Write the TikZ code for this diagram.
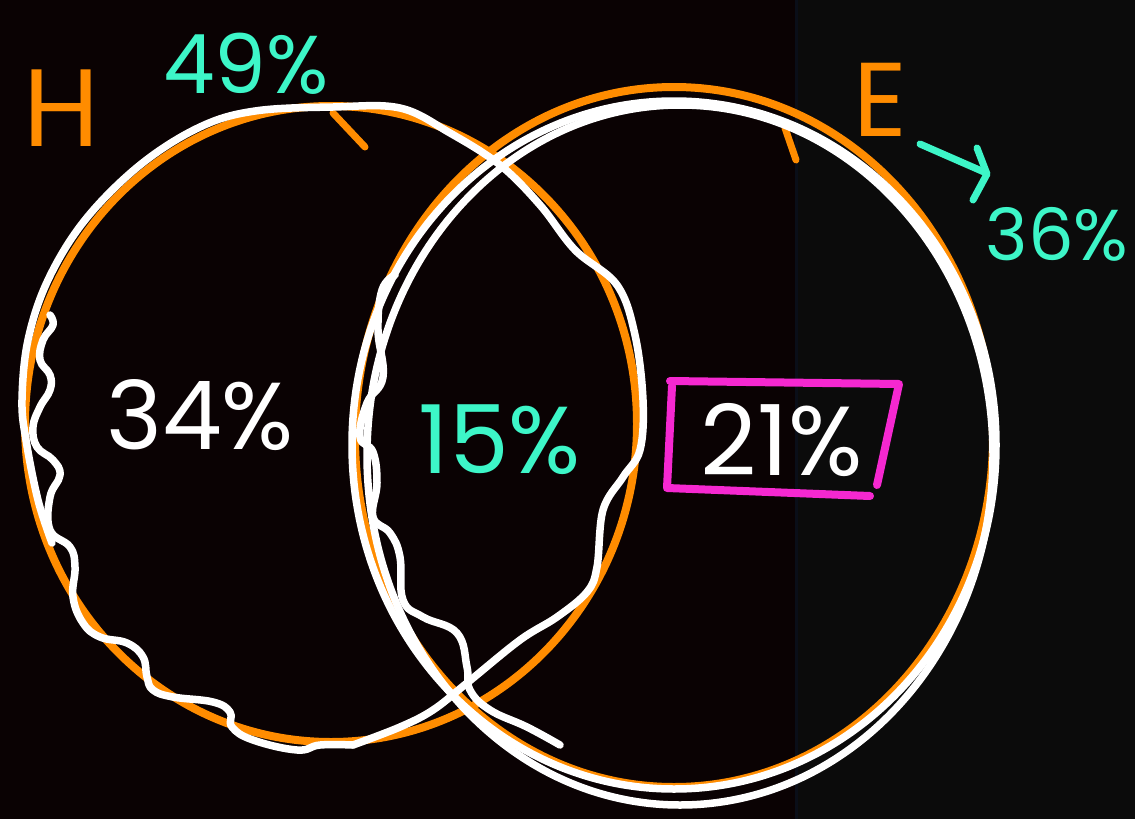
\documentclass[tikz,border=0pt]{standalone}
\usepackage{fontspec}
\setmainfont{Poppins}
\usetikzlibrary{calc}
\definecolor{bgl}{HTML}{0A0203}
\definecolor{bgr}{HTML}{0B0B0B}
\definecolor{seam}{HTML}{0A0E18}
\definecolor{orng}{HTML}{FF8C00}
\definecolor{mint}{HTML}{3DF6C8}
\definecolor{mag}{HTML}{F528D0}
\begin{document}
\begin{tikzpicture}[x=1pt,y=-1pt,line cap=round,line join=round,
  ostroke/.style={draw=orng,line width=8pt},
  wstroke/.style={draw=white,line width=7.5pt},
  lbl/.style={inner sep=0pt,font=\fontsize{#1}{#1}\selectfont}]
\useasboundingbox (0,0) rectangle (1135,819);
% background
\fill[bgl] (0,0) rectangle (795,819);
\fill[bgr] (795,0) rectangle (1135,819);
\draw[seam,line width=3pt,line cap=butt] (796,0) -- (796,819);
% centres
\coordinate (Hc) at (331,424);
\coordinate (Ec) at (674,437);
% orange circles
\draw[ostroke] (Hc) ellipse [x radius=306,y radius=318];
\draw[ostroke] (Ec) ellipse [x radius=319,y radius=350];
% orange ticks
\draw[ostroke,line width=7pt] (333,113) -- (365,147);
\draw[ostroke,line width=7pt] (785,128) -- (796,160);
% white outline of H
\draw[wstroke] plot[smooth,tension=0.6] coordinates {
 (52,543) (38,500) (26,440) (22,400) (28,340) (48,280) (85,220) (140,165)
 (200,127) (255,111) (333,107) (400,108) (450,133) (500,165) (540,205)
 (575,250) (617,285) (635,335) (643,400) (640,450) (623,477) (603,510)
 (597,567) (587,592) (557,617) (520,640) (467,683) (433,710) (400,727) (353,745)};
% wavy line in H
\draw[wstroke] plot[smooth,tension=0.7] coordinates {
 (50,315) (53,325) (43,340) (40,360) (50,375) (50,390) (40,407) (33,427)
 (37,447) (53,460) (60,475) (50,497) (50,530) (70,547) (75,567) (73,597)
 (83,623) (100,637) (127,643) (143,657) (147,677) (153,690) (173,697)
 (213,702) (230,712) (232,727) (253,740) (297,750) (320,745) (353,745)};
% white outlines of E
\draw[wstroke] ($(Ec)+(0,8)$) ellipse [x radius=322,y radius=344];
\draw[wstroke] ($(Ec)+(6,18)$) ellipse [x radius=313,y radius=350];
% wavy line in E
\draw[wstroke] plot[smooth,tension=0.7] coordinates {
 (395,275) (382,290) (378,330) (383,377) (367,403) (360,437) (373,452)
 (377,483) (373,517) (390,533) (400,557) (403,600) (423,617) (457,633)
 (467,667) (470,690) (490,710) (527,727) (560,745)};
% magenta box
\draw[draw=mag,line width=8pt] (670,381) -- (899,384) -- (877,485);
\draw[draw=mag,line width=8pt] (672,386) -- (667,488) -- (870,496);
% arrow E -> 36%
\coordinate (a1) at (920,144);
\coordinate (a2) at (984,172);
\coordinate (ah1) at (977,148);
\coordinate (ah2) at (987,174);
\coordinate (ah3) at (973,200);
\draw[mint,line width=7pt] (a1) -- (a2);
\draw[mint,line width=7pt] (ah1) -- (ah2) -- (ah3);
% labels
\node[lbl=110,text=orng] (hlab) at (62,108) {H};
\node[lbl=82,text=mint] (h49) at (246,64) {49\%};
\node[lbl=105,text=orng] (elab) at (880,100) {E};
\node[lbl=72,text=mint] (e36) at (1057,234) {36\%};
\node[lbl=95,text=white] (p34) at (200,415) {34\%};
\node[lbl=95,text=mint] (p15) at (500,440) {15\%};
\node[lbl=98,text=white] (p21) at (782,440) {21\%};
\end{tikzpicture}
\end{document}
